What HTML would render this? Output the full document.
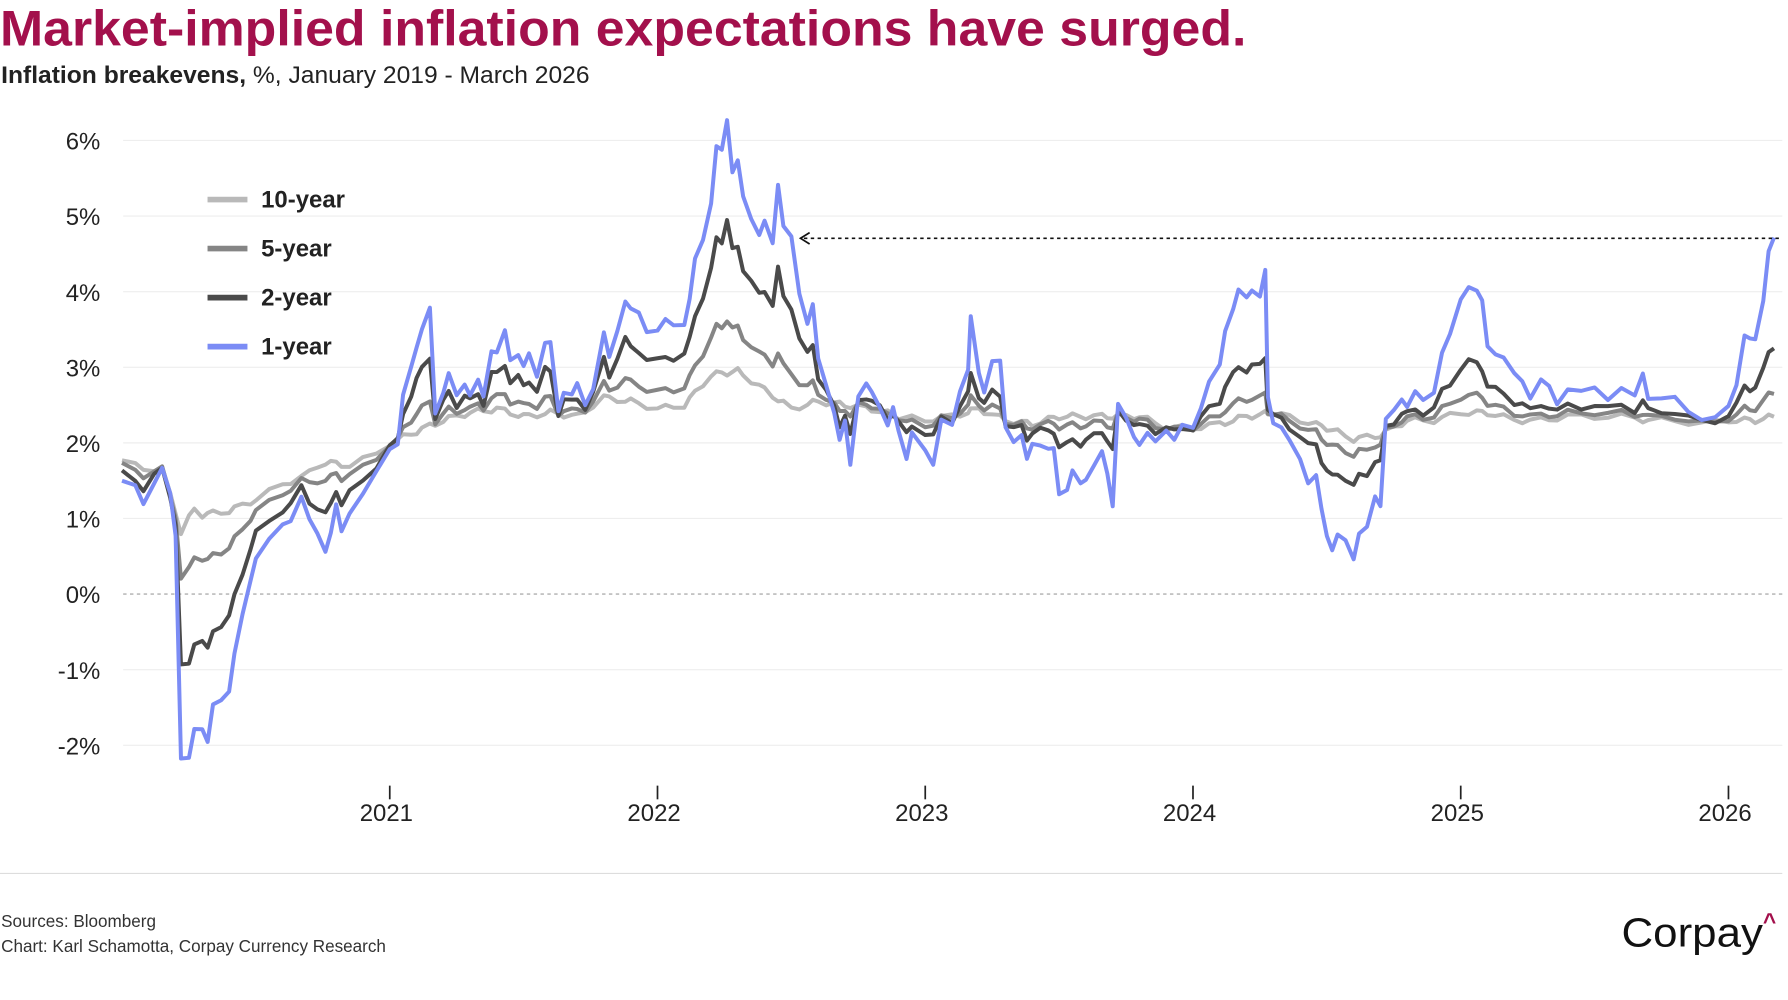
<!DOCTYPE html>
<html><head><meta charset="utf-8"><style>
html,body{margin:0;padding:0;background:#fff;}
svg{display:block;}
text{font-family:"Liberation Sans",sans-serif;}
</style></head><body>
<svg id="s" width="1788" height="1000" viewBox="0 0 1568 877" preserveAspectRatio="none" xmlns="http://www.w3.org/2000/svg">
<text x="0" y="40" font-size="44" font-weight="bold" fill="#A3104C" textLength="1093" lengthAdjust="spacingAndGlyphs">Market-implied inflation expectations have surged.</text>
<text x="1" y="73" font-size="21" fill="#222" textLength="516" lengthAdjust="spacingAndGlyphs"><tspan font-weight="bold">Inflation breakevens,</tspan> %, January 2019 - March 2026</text>
<g id="grid" stroke="#eee" stroke-width="1"></g>
<line x1="108" y1="521" x2="1563" y2="521" stroke="#bbb" stroke-width="1.5" stroke-dasharray="3,3"/>
<g id="ylab" font-size="21" fill="#222" text-anchor="end"></g>
<g id="xlab" font-size="21" fill="#222" text-anchor="middle"></g>
<g id="series" fill="none" stroke-width="3.5" stroke-linejoin="round"></g>
<line x1="705" y1="209" x2="1562" y2="209" stroke="#111" stroke-width="1.5" stroke-dasharray="3,3"/>
<path d="M710 204 L702 209 L710 214" fill="none" stroke="#111" stroke-width="1.5"/>
<g font-size="21" font-weight="bold" fill="#222">
<line x1="182" y1="175" x2="217" y2="175" stroke="#b9b9b9" stroke-width="5"/><text x="229" y="182">10-year</text>
<line x1="182" y1="218" x2="217" y2="218" stroke="#858585" stroke-width="5"/><text x="229" y="225">5-year</text>
<line x1="182" y1="261" x2="217" y2="261" stroke="#4a4a4a" stroke-width="5"/><text x="229" y="268">2-year</text>
<line x1="182" y1="304" x2="217" y2="304" stroke="#7b8cf5" stroke-width="5"/><text x="229" y="311">1-year</text>
</g>
<line x1="0" y1="766" x2="1563" y2="766" stroke="#ddd" stroke-width="1"/>
<text x="1" y="813" font-size="15" fill="#333">Sources: Bloomberg</text>
<text x="1" y="835" font-size="15" fill="#333">Chart: Karl Schamotta, Corpay Currency Research</text>
<text x="1422" y="830" font-size="36" fill="#111" textLength="124" lengthAdjust="spacingAndGlyphs">Corpay</text>
<text x="1546" y="815" font-size="20" font-weight="bold" fill="#A3104C">^</text>
</svg>
<script>
const NS="http://www.w3.org/2000/svg";
function el(p,t,a,txt){const e=document.createElementNS(NS,t);for(const k in a)e.setAttribute(k,a[k]);if(txt!==undefined)e.textContent=txt;p.appendChild(e);return e;}
const X=t=>107+(t-2020)*234.8, Y=v=>521-v*66.3;
const grid=document.getElementById('grid'),yl=document.getElementById('ylab'),xl=document.getElementById('xlab');
for(let v=-2;v<=6;v++){if(v!==0)el(grid,'line',{x1:108,x2:1563,y1:Y(v),y2:Y(v)});el(yl,'text',{x:88,y:Y(v)+8},v+'%');}
for(let yr=2021;yr<=2026;yr++){const x=X(yr);el(xl,'line',{x1:x,x2:x,y1:689,y2:701,stroke:'#222','stroke-width':1.5});el(xl,'text',{x:x-3,y:720},yr);}
const one=[[2020,1.5],[2020.05,1.4],[2020.08,1.2],[2020.12,1.5],[2020.15,1.65],[2020.18,1.3],[2020.2,0.8],[2020.22,-2.15],[2020.25,-2.2],[2020.27,-1.8],[2020.3,-1.75],[2020.32,-1.95],[2020.34,-1.5],[2020.37,-1.4],[2020.4,-1.25],[2020.42,-0.8],[2020.45,-0.3],[2020.48,0.2],[2020.5,0.5],[2020.55,0.7],[2020.6,0.9],[2020.63,1.0],[2020.67,1.3],[2020.7,0.95],[2020.73,0.8],[2020.76,0.6],[2020.78,0.8],[2020.8,1.15],[2020.82,0.85],[2020.85,1.1],[2020.9,1.3],[2020.95,1.6],[2021,1.95],[2021.03,2.0],[2021.05,2.6],[2021.08,3.0],[2021.1,3.3],[2021.12,3.5],[2021.15,3.75],[2021.17,2.4],[2021.2,2.7],[2021.22,2.9],[2021.25,2.6],[2021.28,2.8],[2021.3,2.65],[2021.33,2.8],[2021.35,2.6],[2021.38,3.25],[2021.4,3.2],[2021.43,3.45],[2021.45,3.1],[2021.48,3.2],[2021.5,3.0],[2021.52,3.15],[2021.55,2.9],[2021.58,3.35],[2021.6,3.3],[2021.63,2.4],[2021.65,2.7],[2021.68,2.65],[2021.7,2.75],[2021.73,2.5],[2021.76,2.75],[2021.8,3.45],[2021.82,3.1],[2021.85,3.5],[2021.88,3.9],[2021.9,3.75],[2021.93,3.7],[2021.96,3.5],[2022,3.5],[2022.03,3.6],[2022.06,3.55],[2022.1,3.6],[2022.12,3.9],[2022.14,4.4],[2022.17,4.7],[2022.2,5.2],[2022.22,5.9],[2022.24,5.85],[2022.26,6.3],[2022.28,5.6],[2022.3,5.7],[2022.32,5.25],[2022.35,5.0],[2022.38,4.75],[2022.4,4.9],[2022.43,4.65],[2022.45,5.45],[2022.47,4.85],[2022.5,4.7],[2022.53,4.0],[2022.56,3.6],[2022.58,3.8],[2022.6,3.1],[2022.63,2.8],[2022.66,2.4],[2022.68,2.0],[2022.7,2.3],[2022.72,1.75],[2022.75,2.6],[2022.78,2.75],[2022.8,2.7],[2022.83,2.5],[2022.86,2.2],[2022.88,2.45],[2022.9,2.2],[2022.93,1.8],[2022.95,2.1],[2023,1.9],[2023.03,1.75],[2023.06,2.3],[2023.1,2.2],[2023.13,2.7],[2023.16,3.0],[2023.17,3.65],[2023.2,2.9],[2023.22,2.7],[2023.25,3.1],[2023.28,3.05],[2023.3,2.2],[2023.33,2.05],[2023.36,2.1],[2023.38,1.75],[2023.4,2.0],[2023.43,2.0],[2023.46,1.9],[2023.48,1.9],[2023.5,1.35],[2023.53,1.4],[2023.55,1.6],[2023.58,1.45],[2023.6,1.55],[2023.63,1.7],[2023.66,1.85],[2023.68,1.6],[2023.7,1.2],[2023.72,2.5],[2023.75,2.3],[2023.78,2.1],[2023.8,2.0],[2023.83,2.1],[2023.86,2.0],[2023.9,2.2],[2023.93,2.05],[2023.96,2.2],[2024,2.2],[2024.03,2.5],[2024.06,2.8],[2024.1,3.0],[2024.12,3.5],[2024.15,3.8],[2024.17,4.0],[2024.2,3.9],[2024.22,4.05],[2024.25,3.95],[2024.27,4.25],[2024.28,2.6],[2024.3,2.3],[2024.33,2.2],[2024.36,2.0],[2024.4,1.8],[2024.43,1.5],[2024.46,1.55],[2024.48,1.1],[2024.5,0.8],[2024.52,0.6],[2024.54,0.75],[2024.57,0.7],[2024.6,0.5],[2024.62,0.8],[2024.65,0.85],[2024.68,1.3],[2024.7,1.2],[2024.72,2.3],[2024.75,2.4],[2024.78,2.6],[2024.8,2.5],[2024.83,2.65],[2024.86,2.55],[2024.9,2.7],[2024.93,3.2],[2024.96,3.4],[2025,3.9],[2025.03,4.1],[2025.06,4.0],[2025.08,3.85],[2025.1,3.3],[2025.13,3.2],[2025.16,3.1],[2025.2,2.9],[2025.23,2.85],[2025.26,2.6],[2025.3,2.8],[2025.33,2.75],[2025.36,2.55],[2025.4,2.7],[2025.45,2.65],[2025.5,2.75],[2025.55,2.6],[2025.6,2.7],[2025.65,2.6],[2025.68,2.95],[2025.7,2.6],[2025.75,2.55],[2025.8,2.6],[2025.85,2.45],[2025.9,2.3],[2025.95,2.3],[2026,2.5],[2026.03,2.8],[2026.06,3.4],[2026.08,3.35],[2026.1,3.4],[2026.13,3.9],[2026.15,4.5],[2026.17,4.7]];
const ten=[[2020,1.75],[2020.1,1.65],[2020.15,1.65],[2020.2,1.1],[2020.22,0.8],[2020.25,1.0],[2020.28,1.2],[2020.3,1.05],[2020.4,1.1],[2020.5,1.25],[2020.6,1.45],[2020.7,1.6],[2020.75,1.75],[2020.85,1.7],[2020.95,1.85],[2021,2.0],[2021.1,2.15],[2021.2,2.3],[2021.3,2.4],[2021.4,2.45],[2021.5,2.35],[2021.6,2.4],[2021.7,2.35],[2021.8,2.6],[2021.9,2.55],[2022,2.45],[2022.1,2.5],[2022.2,2.9],[2022.3,2.95],[2022.4,2.7],[2022.5,2.45],[2022.6,2.55],[2022.7,2.5],[2022.8,2.45],[2022.9,2.35],[2023,2.3],[2023.1,2.35],[2023.2,2.45],[2023.3,2.3],[2023.4,2.25],[2023.5,2.35],[2023.6,2.35],[2023.7,2.35],[2023.8,2.35],[2023.9,2.2],[2024,2.2],[2024.1,2.25],[2024.2,2.35],[2024.3,2.4],[2024.4,2.3],[2024.5,2.2],[2024.6,2.05],[2024.7,2.1],[2024.8,2.3],[2024.9,2.3],[2025,2.4],[2025.1,2.4],[2025.2,2.3],[2025.3,2.3],[2025.4,2.35],[2025.5,2.35],[2025.6,2.35],[2025.7,2.3],[2025.8,2.3],[2025.9,2.25],[2026,2.3],[2026.1,2.3],[2026.17,2.35]];
function interp(t){for(let i=0;i<ten.length-1;i++){if(t>=ten[i][0]&&t<=ten[i+1][0]){const f=(t-ten[i][0])/(ten[i+1][0]-ten[i][0]);return ten[i][1]+f*(ten[i+1][1]-ten[i][1]);}}return ten[ten.length-1][1];}
function lerpK(t,a,b){const f=Math.min(1,Math.max(0,(t-2022.6)/0.4));return a+f*(b-a);}
const g=document.getElementById('series');
function draw(ka,kb,col,jit){const d=one.map((p,i)=>{const b=interp(p[0]);const k=lerpK(p[0],ka,kb);const v=b+k*(p[1]-b)+Math.sin(i*1.7+jit)*0.04;return (i?'L':'M')+X(p[0]).toFixed(1)+' '+Y(v).toFixed(1);}).join('');el(g,'path',{d:d,stroke:col});}
draw(0,0,'#b9b9b9',0.5);draw(0.21,0.14,'#858585',1.3);draw(0.6,0.4,'#4a4a4a',2.1);draw(1,1,'#7b8cf5',0);
</script>
</body></html>
